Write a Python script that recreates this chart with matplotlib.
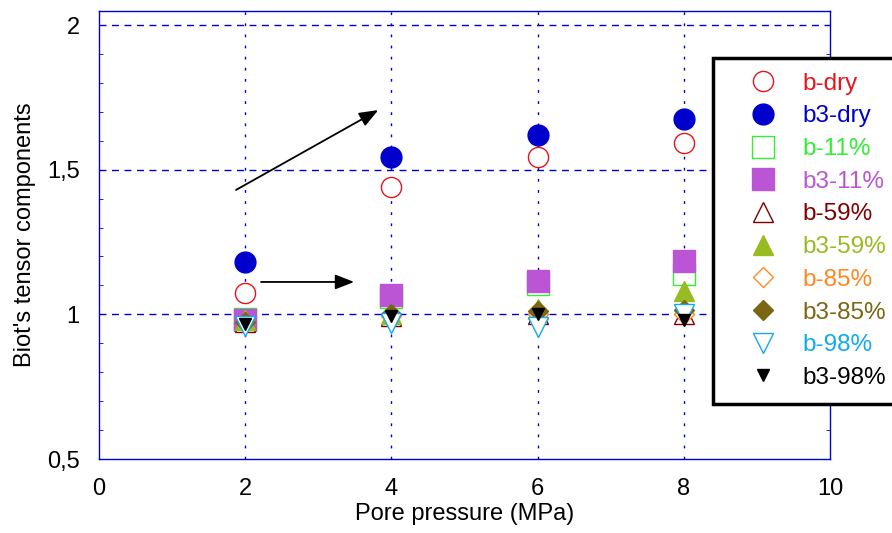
import matplotlib
matplotlib.use("Agg")
import matplotlib.pyplot as plt
from matplotlib.ticker import FixedLocator, MultipleLocator

plt.rcParams['font.family'] = ['Liberation Sans', 'DejaVu Sans']

pressure = [2, 4, 6, 8]
series_names = ["b-dry", "b3-dry", "b-11%", "b3-11%", "b-59%", "b3-59%",
                "b-85%", "b3-85%", "b-98%", "b3-98%"]
b_dry = [1.075, 1.44, 1.545, 1.592]
b3_dry = [1.18, 1.544, 1.62, 1.675]
b_11 = [0.985, 1.06, 1.105, 1.14]
b3_11 = [0.98, 1.067, 1.115, 1.185]
b_59 = [0.975, 0.995, 1.0, 1.0]
b3_59 = [0.98, 1.0, 1.02, 1.08]
b_85 = [0.975, 0.995, 1.0, 1.0]
b3_85 = [0.975, 1.0, 1.01, 1.015]
b_98 = [0.96, 0.97, 0.955, 1.0]
b3_98 = [0.965, 0.995, 1.0, 0.98]
values = [b_dry, b3_dry, b_11, b3_11, b_59, b3_59, b_85, b3_85, b_98, b3_98]

styles = [
    dict(marker='o', color='#e8141c', filled=False, ms=14.5),
    dict(marker='o', color='#0000cc', filled=True, ms=15),
    dict(marker='s', color='#33ee33', filled=False, ms=16),
    dict(marker='s', color='#bb55d5', filled=True, ms=16.5),
    dict(marker='^', color='#800000', filled=False, ms=14),
    dict(marker='^', color='#99bb22', filled=True, ms=14),
    dict(marker='D', color='#ff8822', filled=False, ms=10.5),
    dict(marker='D', color='#7a6614', filled=True, ms=10.5),
    dict(marker='v', color='#11aaee', filled=False, ms=15),
    dict(marker='v', color='#000000', filled=True, ms=9),
]

fig = plt.figure(figsize=(8.92, 5.33), dpi=100)
ax = fig.add_axes([0.111, 0.1388, 0.8195, 0.8406])

ax.set_xlim(0, 10)
ax.set_ylim(0.5, 2.0486)

handles = []
for name, vals, st in zip(series_names, values, styles):
    h, = ax.plot(pressure, vals, linestyle='none', marker=st['marker'],
                 markersize=st['ms'],
                 markerfacecolor=st['color'] if st['filled'] else 'white',
                 markeredgecolor=st['color'], markeredgewidth=1.0,
                 label=name, zorder=3)
    handles.append(h)

# grid lines
for yv in [1.0, 1.5, 2.0]:
    ax.axhline(yv, color='#0000cc', lw=1.0, linestyle=(0, (5, 4)), zorder=1)
for xv in [2, 4, 6, 8]:
    ax.axvline(xv, color='#0000cc', lw=1.0, linestyle=(0, (2, 6)), zorder=1)

# arrows
arrow_style = '-|>,head_length=1.15,head_width=0.45'
ax.annotate('', xy=(3.82, 1.706), xytext=(1.874, 1.43),
            arrowprops=dict(arrowstyle=arrow_style,
                            color='black', lw=1.3, shrinkA=0, shrinkB=0))
ax.annotate('', xy=(3.49, 1.112), xytext=(2.216, 1.112),
            arrowprops=dict(arrowstyle=arrow_style,
                            color='black', lw=1.3, shrinkA=0, shrinkB=0))

for sp in ax.spines.values():
    sp.set_color('#0000cc')
    sp.set_linewidth(1.0)

ax.xaxis.set_major_locator(FixedLocator([0, 2, 4, 6, 8, 10]))
ax.set_xticklabels(['0', '2', '4', '6', '8', '10'])
ax.yaxis.set_major_locator(FixedLocator([0.5, 1.0, 1.5, 2.0]))
ax.set_yticklabels(['0,5', '1', '1,5', '2'])
ax.yaxis.set_minor_locator(MultipleLocator(0.1))
ax.tick_params(axis='both', which='major', length=0, labelsize=17, pad=14)
ax.tick_params(axis='y', which='minor', direction='in', length=3,
               color='#0000cc', left=True, right=True)
ax.tick_params(axis='x', which='major', pad=14)

ax.set_xlabel('Pore pressure (MPa)', fontsize=17, labelpad=2)
ax.set_ylabel("Biot's tensor components", fontsize=17, labelpad=8)

leg = fig.legend(handles=handles, loc='upper left',
                 bbox_to_anchor=(713 / 892, 1 - 58 / 533),
                 fontsize=17.5, frameon=True, fancybox=False, framealpha=1,
                 borderpad=0.6, handlelength=2.9, handletextpad=0.16,
                 labelspacing=0.44, borderaxespad=0, numpoints=1,
                 markerscale=1.0)
leg.get_frame().set_edgecolor('black')
leg.get_frame().set_linewidth(2.5)
for txt, st in zip(leg.get_texts(), styles):
    txt.set_color(st['color'])
leg.set_zorder(10)

fig.savefig('out.png', dpi=100)
